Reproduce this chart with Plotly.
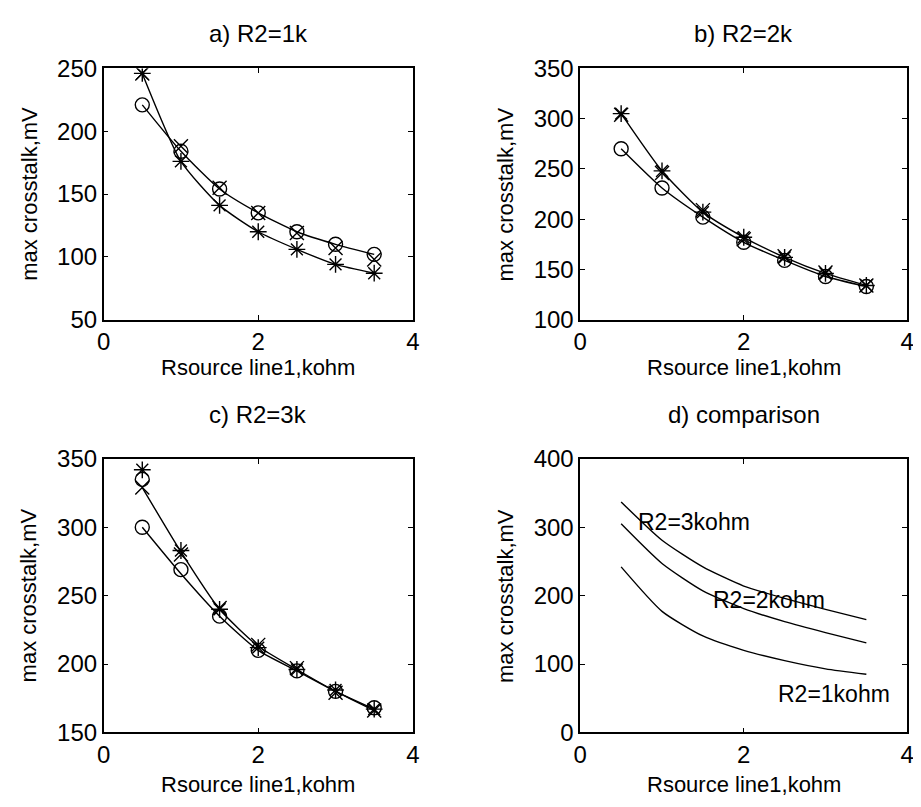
import plotly.graph_objects as go

# ---------------- data ----------------
x_src = [0.5, 1.0, 1.5, 2.0, 2.5, 3.0, 3.5]

# a) R2=1k
a_circle = [221, 184, 154, 135, 120, 110, 102]
a_cross = [246, 188, 155, 135, 119, 107, 98]
a_star = [246, 176, 141, 120, 106, 94, 87]

# b) R2=2k
b_circle = [270, 231, 202, 177, 159, 143, 133]
b_cross = [304, 246, 209, 180, 163, 147, 134]
b_star = [305, 248, 207, 182, 162, 146, 134]

# c) R2=3k
c_circle = [300, 269, 235, 210, 195, 180, 168]
c_circle_extra = [335]
c_cross = [329, 280, 241, 214, 197, 179, 166]
c_star = [342, 283, 240, 212, 196, 181, 167]
c_line_low = [300, 266, 235, 210, 195, 180, 167]
c_line_high = [329, 282, 240, 213, 196, 180, 166]

# d) comparison
d_r1 = [242, 177, 141, 120, 105, 93, 85]
d_r2 = [305, 247, 207, 181, 162, 146, 131]
d_r3 = [337, 281, 242, 214, 196, 180, 165]
d_labels = ["R2=3kohm", "R2=2kohm", "R2=1kohm"]
d_label_x = [0.68, 1.60, 2.40]
d_label_y = [308, 193, 56]

titles = ["a) R2=1k", "b) R2=2k", "c) R2=3k", "d) comparison"]
y_ranges = [[50, 250], [100, 350], [150, 350], [0, 400]]
y_dticks = [50, 50, 50, 100]
x_title = "Rsource line1,kohm"
y_title = "max crosstalk,mV"

# ---------------- layout geometry ----------------
W, H = 921, 807
FONT = "Liberation Sans, Arial, sans-serif"
FS_TICK = 24
FS_TITLE = 24
FS_LABEL = 22
boxes = {  # left, right, top, bottom in pixels
    1: (90, 404, 48, 308),
    2: (574, 906, 48, 308),
    3: (90, 404, 452, 735),
    4: (574, 906, 452, 735),
}
title_off = {1: 36, 2: 36, 3: 46, 4: 46}
xlab_off = {1: 49, 2: 49, 3: 54, 4: 54}


def xd(l, r):
    return [l / W, r / W]


def yd(t, b):
    return [1 - b / H, 1 - t / H]


fig = go.Figure()
mk = dict(color="black", size=14, line=dict(color="black", width=1.4))


def add(ax, x, y, mode, symbol=None, shape="spline"):
    kw = dict(x=x, y=y, mode=mode, showlegend=False, hoverinfo="skip",
              xaxis="x" + ("" if ax == 1 else str(ax)),
              yaxis="y" + ("" if ax == 1 else str(ax)))
    if "lines" in mode:
        kw["line"] = dict(color="black", width=1.4, shape=shape, smoothing=0.6)
    if "markers" in mode:
        kw["marker"] = dict(symbol=symbol, **mk)
    fig.add_trace(go.Scatter(**kw))


# panel a
add(1, x_src, a_circle, "lines")
add(1, x_src, a_star, "lines")
add(1, x_src, a_circle, "markers", "circle-open")
add(1, x_src, a_cross, "markers", "x-thin-open")
add(1, x_src, a_star, "markers", "asterisk-open")
# panel b
add(2, x_src, b_circle, "lines")
add(2, x_src, b_star, "lines")
add(2, x_src, b_circle, "markers", "circle-open")
add(2, x_src, b_cross, "markers", "x-thin-open")
add(2, x_src, b_star, "markers", "asterisk-open")
# panel c
add(3, x_src, c_line_low, "lines")
add(3, x_src, c_line_high, "lines")
add(3, x_src, c_circle, "markers", "circle-open")
add(3, x_src[:1], c_circle_extra, "markers", "circle-open")
add(3, x_src, c_cross, "markers", "x-thin-open")
add(3, x_src, c_star, "markers", "asterisk-open")
# panel d
for ys in (d_r1, d_r2, d_r3):
    add(4, x_src, ys, "lines")

axis_common = dict(showgrid=False, zeroline=False, showline=True, linecolor="black",
                   linewidth=1.5, mirror="ticks", ticks="inside", ticklen=5,
                   tickcolor="black", tickwidth=1,
                   tickfont=dict(family=FONT, size=FS_TICK, color="black"))

layout = dict(width=W, height=H, margin=dict(l=0, r=0, t=0, b=0),
              paper_bgcolor="white", plot_bgcolor="white", showlegend=False,
              font=dict(family=FONT, size=FS_LABEL, color="black"))
annotations = []
for i in range(1, 5):
    l, r, t, b = boxes[i]
    sfx = "" if i == 1 else str(i)
    layout["xaxis" + sfx] = dict(axis_common, domain=xd(l, r), range=[0, 4], dtick=2,
                                 tick0=0, anchor="y" + sfx)
    layout["yaxis" + sfx] = dict(axis_common, domain=yd(t, b), range=y_ranges[i - 1],
                                 dtick=y_dticks[i - 1], anchor="x" + sfx)
    cx = (l + r) / 2
    annotations.append(dict(text=titles[i - 1], x=cx / W, y=1 - (t - title_off[i]) / H,
                            xref="paper", yref="paper", showarrow=False,
                            xanchor="center", yanchor="middle",
                            font=dict(family=FONT, size=FS_TITLE)))
    annotations.append(dict(text=x_title, x=cx / W, y=1 - (b + xlab_off[i]) / H,
                            xref="paper", yref="paper", showarrow=False,
                            xanchor="center", yanchor="middle",
                            font=dict(family=FONT, size=FS_LABEL)))
    annotations.append(dict(text=y_title, x=(l - 76) / W, y=1 - ((t + b) / 2) / H,
                            xref="paper", yref="paper", showarrow=False, textangle=-90,
                            xanchor="center", yanchor="middle",
                            font=dict(family=FONT, size=FS_LABEL)))

for txt, lx, ly in zip(d_labels, d_label_x, d_label_y):
    annotations.append(dict(text=txt, x=lx, y=ly, xref="x4", yref="y4", showarrow=False,
                            xanchor="left", yanchor="middle",
                            font=dict(family=FONT, size=23)))

layout["annotations"] = annotations
fig.update_layout(**layout)
fig.write_html("out.html")
